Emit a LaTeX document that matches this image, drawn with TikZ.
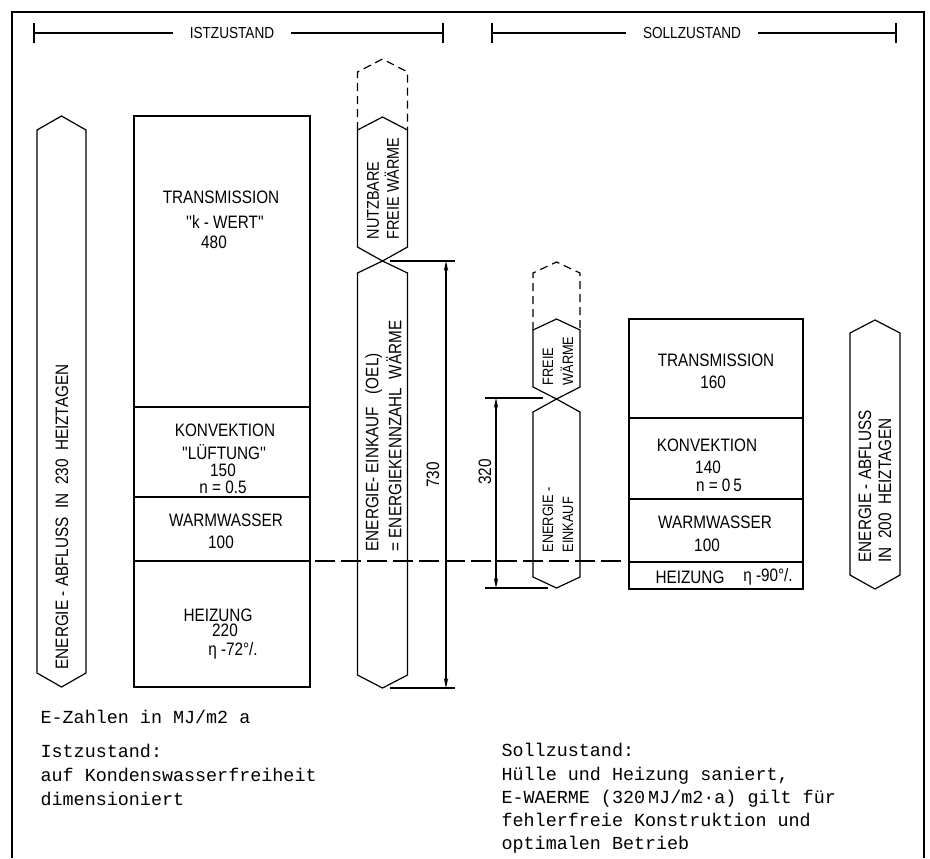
\documentclass[tikz,border=0pt]{standalone}
\usepackage{fontspec}
\setmainfont{Liberation Sans}
\setmonofont{Liberation Mono}
\newfontfamily\dinfont[FakeStretch=0.85]{Liberation Sans}
\usetikzlibrary{arrows.meta}

\begin{document}
\begin{tikzpicture}[x=0.5pt,y=-0.5pt,line width=0.6pt]
\useasboundingbox (0,0) rectangle (930,858);
% frame, open at the bottom
\draw (12,858) -- (12,12) -- (924,12) -- (924,858);

% headers
\begin{scope}[every node/.style={font=\dinfont\fontsize{8}{9}\selectfont, inner xsep=8pt, inner ysep=1pt}]
	\node (ist) at (232,33) {ISTZUSTAND};
	\node (soll) at (692,33) {SOLLZUSTAND};
\end{scope}
\coordinate (istL) at (34,33);
\coordinate (istR) at (443,33);
\coordinate (sollL) at (492,33);
\coordinate (sollR) at (896,33);
\draw (istL) -- (ist) (ist) -- (istR);
\draw (sollL) -- (soll) (soll) -- (sollR);
\draw (34,23) -- (34,43) (443,23) -- (443,43);
\draw (492,23) -- (492,43) (896,23) -- (896,43);

% Istzustand: stacked box
\draw (134,116) rectangle (310,407);
\draw (134,407) rectangle (310,497);
\draw (134,497) rectangle (310,561);
\draw (134,561) rectangle (310,687);

% Sollzustand: stacked box
\draw (629,319) rectangle (803,418);
\draw (629,418) rectangle (803,499);
\draw (629,499) rectangle (803,562);
\draw (629,562) rectangle (803,589);

% hexagonal bars
\draw (61.5,116) -- (86,130) -- (86,673) -- (61.5,687) -- (37,673) -- (37,130) -- cycle;
\draw (382.5,117) -- (407.5,130) -- (407.5,247) -- (382.5,261) -- (357.5,247) -- (357.5,130) -- cycle;
\draw (382.5,261) -- (407.5,273) -- (407.5,675) -- (382.5,688) -- (357.5,675) -- (357.5,273) -- cycle;
\draw (556.5,319) -- (580,330) -- (580,387) -- (556.5,399) -- (533,387) -- (533,330) -- cycle;
\draw (556.5,399) -- (580,412) -- (580,577) -- (556.5,588) -- (533,577) -- (533,412) -- cycle;
\draw (875,320) -- (900,333) -- (900,575) -- (875,589) -- (850,575) -- (850,333) -- cycle;
\begin{scope}[dash pattern=on 4pt off 2.5pt]
	\draw (357.5,130) -- (357.5,72) -- (382.5,59) -- (407.5,72) -- (407.5,130);
	\draw (533,330) -- (533,273) -- (556.5,262) -- (580,273) -- (580,330);
\end{scope}

% level of the heating
\draw [dash pattern=on 10pt off 3pt] (315,561) -- (622,561);

\begin{scope}[every node/.style={font=\dinfont\fontsize{9}{10}\selectfont, inner sep=0pt}]
	% left box
	\node (trL) at (221,197) {TRANSMISSION};
	\node (kw) at (225,222) {''k - WERT''};
	\node (trLv) at (214,242) {480};
	\node (koL) at (225,430) {KONVEKTION};
	\node (lu) at (224,452) {''LÜFTUNG''};
	\node (koLv) at (223,470) {150};
	\node (nL) at (223,487) {n = 0.5};
	\node (wwL) at (226,520) {WARMWASSER};
	\node (wwLv) at (221,542) {100};
	\node (heL) at (218,615) {HEIZUNG};
	\node (heLv) at (225,630) {220};
	\node (etaL) at (233,651) {η -72°/.};
	% right box
	\node (trR) at (716,360) {TRANSMISSION};
	\node (trRv) at (713,382) {160};
	\node (koR) at (707,445) {KONVEKTION};
	\node (koRv) at (708,467) {140};
	\node (nR) at (719,485) {n = 0\,5};
	\node (wwR) at (715,522) {WARMWASSER};
	\node (wwRv) at (707,545) {100};
	\node (heR) at (690,577) {HEIZUNG};
	\node (etaR) at (768,577) {η -90°/.};
	% texts in the bars
	\node [rotate=90, anchor=west] (abL) at (62,670) {ENERGIE - ABFLUSS\ \ IN\ \ 230\ \ HEIZTAGEN};
	\node [rotate=90, anchor=west, align=left, font=\dinfont\fontsize{8.5}{10}\selectfont] (nfw) at (383,240)
		{NUTZBARE\\FREIE WÄRME};
	\node [rotate=90, anchor=west, align=left, font=\dinfont\fontsize{9}{11.5}\selectfont] (oel) at (383.5,552)
		{ENERGIE- EINKAUF\ \ \ (OEL)\\= ENERGIEKENNZAHL\ \ WÄRME};
	\node [rotate=90, anchor=west, align=left, font=\dinfont\fontsize{7.5}{10}\selectfont] (fw) at (558,386)
		{FREIE\\WÄRME};
	\node [rotate=90, anchor=west, align=left, font=\dinfont\fontsize{7.5}{10}\selectfont] (ek) at (558,553)
		{ENERGIE -\\EINKAUF};
	\node [rotate=90, anchor=west, align=left] (abR) at (875,563) {ENERGIE - ABFLUSS\\IN\ \ 200\ \ HEIZTAGEN};
	% dimensions
	\node [rotate=90] (d730) at (433,475) {730};
	\node [rotate=90] (d320) at (485,472) {320};
\end{scope}

\coordinate (a730t) at (446,261);
\coordinate (a730b) at (446,688);
\coordinate (e730ta) at (390,261);
\coordinate (e730tb) at (455,261);
\coordinate (e730ba) at (390,688);
\coordinate (e730bb) at (455,688);
\coordinate (a320t) at (496,398);
\coordinate (a320b) at (496,588);
\coordinate (e320ta) at (485,398);
\coordinate (e320tb) at (543,398);
\coordinate (e320ba) at (485,588);
\coordinate (e320bb) at (548,588);
\begin{scope}[>={Stealth[black, length=5pt, width=2.2pt]},
		every edge/.style={draw=black, line width=0.6pt}]
	\path [<->] (a730t) edge (a730b);
	\path [<->] (a320t) edge (a320b);
	\path [-] (e730ta) edge (e730tb);
	\path [-] (e730ba) edge (e730bb);
	\path [-] (e320ta) edge (e320tb);
	\path [-] (e320ba) edge (e320bb);
\end{scope}

% notes
\begin{scope}[every node/.style={font=\ttfamily\fontsize{9.2}{12}\selectfont, inner sep=0pt, anchor=west, align=left}]
	\node (unit) at (40,717) {E-Zahlen in MJ/m2 a};
	\node (noteL) at (40,775) {Istzustand:\\auf Kondenswasserfreiheit\\dimensioniert};
	\node [font=\ttfamily\fontsize{9.2}{11.6}\selectfont] (noteR) at (501,798.5)
		{Sollzustand:\\Hülle und Heizung saniert,\\E-WAERME (320\,MJ/m2·a) gilt für\\fehlerfreie Konstruktion und\\optimalen Betrieb};
\end{scope}
\end{tikzpicture}
\end{document}
